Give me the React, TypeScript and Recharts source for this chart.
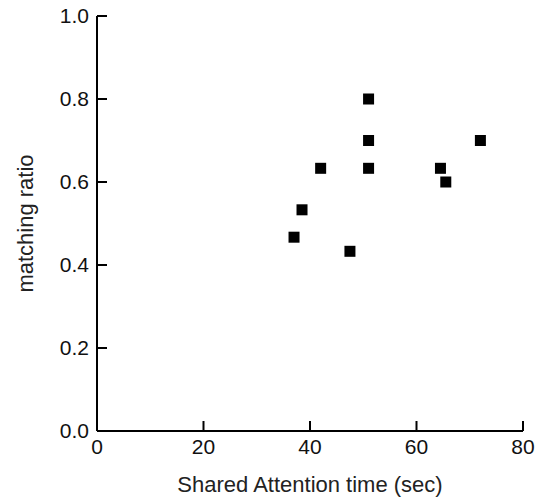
import { ScatterChart, Scatter, XAxis, YAxis } from "recharts";

// shared attention time (sec) vs matching ratio, one point per pair
const attentionTime = [51, 51, 72, 42, 51, 64.5, 65.5, 38.5, 37, 47.5];
const matchingRatio = [0.8, 0.7, 0.7, 0.633, 0.633, 0.633, 0.6, 0.533, 0.467, 0.433];

const xTicks = [0, 20, 40, 60, 80];
const yTicks = [0, 0.2, 0.4, 0.6, 0.8, 1.0];

const FONT = "'Liberation Sans', Arial, Helvetica, sans-serif";
const TICK_GAP = 8;
const TICK_LEN = 10;

const points = attentionTime.map((t, i) => ({ x: t, y: matchingRatio[i] }));

function YTick(props: any) {
  const { x, y, payload } = props;
  const axisX = x + TICK_GAP;
  return (
    <g>
      <line x1={axisX} x2={axisX + TICK_LEN} y1={y} y2={y} stroke="#000" strokeWidth={2} />
      <text x={x} y={y} dy="0.355em" textAnchor="end" fontSize={21} fontFamily={FONT} fill="#111">
        {Number(payload.value).toFixed(1)}
      </text>
    </g>
  );
}

function XTick(props: any) {
  const { x, y, payload } = props;
  const axisY = y - TICK_GAP;
  return (
    <g>
      <line x1={x} x2={x} y1={axisY} y2={axisY - TICK_LEN} stroke="#000" strokeWidth={2} />
      <text x={x} y={y} dy="0.71em" textAnchor="middle" fontSize={21} fontFamily={FONT} fill="#111">
        {payload.value}
      </text>
    </g>
  );
}

function SquareDot(props: any) {
  const { cx, cy } = props;
  const s = 11;
  return <rect x={cx - s / 2} y={cy - s / 2} width={s} height={s} fill="#000" />;
}

export default function App() {
  return (
    <div style={{ position: "absolute", left: 0, top: 0, background: "#fff" }}>
      <ScatterChart width={548} height={500} margin={{ top: 16, right: 25, bottom: 0, left: 10 }}>
        <XAxis
          type="number"
          dataKey="x"
          domain={[0, 80]}
          ticks={xTicks}
          height={69}
          tickSize={0}
          tickMargin={TICK_GAP}
          tickLine={false}
          tick={<XTick />}
          axisLine={{ stroke: "#000", strokeWidth: 2 }}
          label={{
            value: "Shared Attention time (sec)",
            position: "insideBottom",
            offset: 8,
            style: { fontSize: 22, fontFamily: FONT, fill: "#222" },
          }}
        />
        <YAxis
          type="number"
          dataKey="y"
          domain={[0, 1]}
          ticks={yTicks}
          width={87}
          tickSize={0}
          tickMargin={TICK_GAP}
          tickLine={false}
          tick={<YTick />}
          axisLine={{ stroke: "#000", strokeWidth: 2 }}
          label={{
            value: "matching ratio",
            angle: -90,
            position: "insideLeft",
            offset: 15,
            style: { fontSize: 22, fontFamily: FONT, fill: "#222", textAnchor: "middle" },
          }}
        />
        <Scatter data={points} shape={<SquareDot />} isAnimationActive={false} />
      </ScatterChart>
    </div>
  );
}
